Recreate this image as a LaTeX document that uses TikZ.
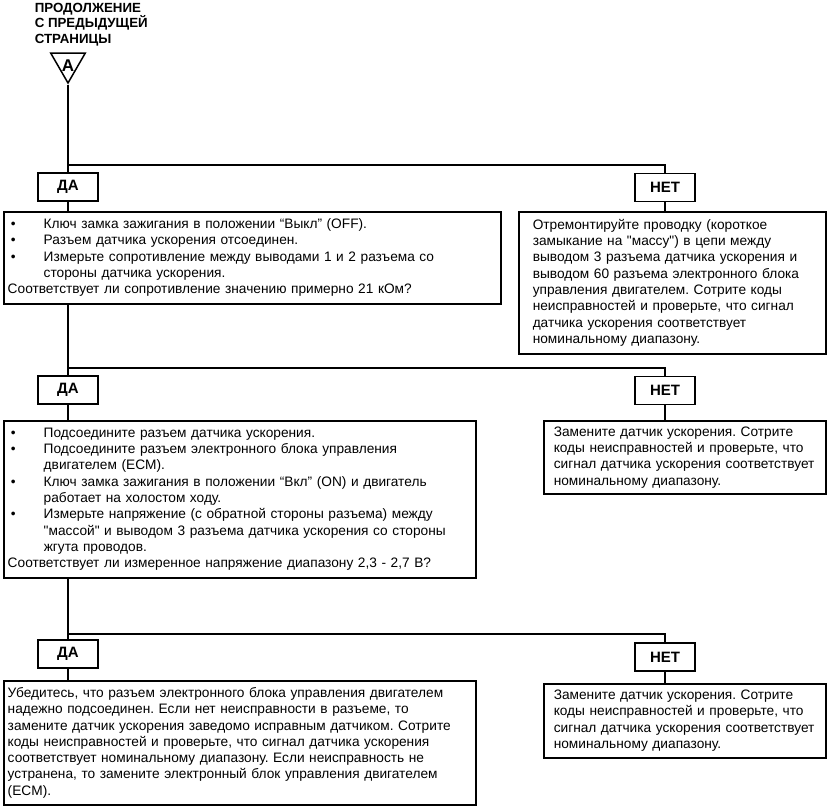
\documentclass[tikz,border=0pt]{standalone}
\usepackage{fontspec}
\setmainfont{Liberation Sans}[Ligatures=TeXOff]
\usetikzlibrary{shapes.geometric}
\frenchspacing
\newcommand{\blt}{\makebox[36pt][l]{\hspace{3pt}\textbullet}}
\newcommand{\bind}{\hspace*{36pt}}
\tikzset{
 qbox/.style={draw,rectangle,anchor=north west,align=left,inner xsep=4pt,inner ysep=0pt,
  font=\fontsize{13.7}{16.3}\selectfont},
 rbox/.style={qbox,inner xsep=10pt},
 yesno/.style={draw,rectangle,minimum width=60pt,minimum height=28pt,inner sep=0pt,
  font=\bfseries\fontsize{15}{16}\selectfont}
}
\begin{document}
\begin{tikzpicture}[x=1pt,y=-1pt,line width=1.5pt]
 \useasboundingbox (0,0) rectangle (832,811);
 \node (title) [anchor=north west,align=left,inner sep=0pt,font=\bfseries\fontsize{13.3}{15.5}\selectfont] at (34,2)
  {ПРОДОЛЖЕНИЕ\\С ПРЕДЫДУЩЕЙ\\СТРАНИЦЫ};
 \node (tri) [draw,regular polygon,regular polygon sides=3,shape border rotate=180,minimum size=40pt,inner sep=0pt] at (68,63) {};
 \node (letter) [inner sep=0pt,font=\bfseries\fontsize{17}{17}\selectfont] at (68,65.5) {A};
 \coordinate (j1) at (68,165);
 \coordinate (j2) at (68,368);
 \coordinate (j3) at (68,634);
 \node (yes1) [yesno] at (68,187) {ДА};
 \node (no1) [yesno] at (665,187.5) {НЕТ};
 \node (q1) [qbox,text width=489pt,minimum height=92pt] at (3,211)
  {\blt Ключ замка зажигания в положении “Выкл” (OFF).\\
   \blt Разъем датчика ускорения отсоединен.\\
   \blt Измерьте сопротивление между выводами 1 и 2 разъема со\\
   \bind стороны датчика ускорения.\\
   Соответствует ли сопротивление значению примерно 21 кОм?};
 \node (r1) [rbox,inner xsep=14pt,text width=279pt,minimum height=142pt] at (518,211)
  {Отремонтируйте проводку (короткое\\
   замыкание на "массу") в цепи между\\
   выводом 3 разъема датчика ускорения и\\
   выводом 60 разъема электронного блока\\
   управления двигателем. Сотрите коды\\
   неисправностей и проверьте, что сигнал\\
   датчика ускорения соответствует\\
   номинальному диапазону.};
 \node (yes2) [yesno] at (68,390) {ДА};
 \node (no2) [yesno] at (665,390.5) {НЕТ};
 \node (q2) [qbox,text width=464pt,minimum height=157pt] at (3,420)
  {\blt Подсоедините разъем датчика ускорения.\\
   \blt Подсоедините разъем электронного блока управления\\
   \bind двигателем (ECM).\\
   \blt Ключ замка зажигания в положении “Вкл” (ON) и двигатель\\
   \bind работает на холостом ходу.\\
   \blt Измерьте напряжение (с обратной стороны разъема) между\\
   \bind "массой" и выводом 3 разъема датчика ускорения со стороны\\
   \bind жгута проводов.\\
   Соответствует ли измеренное напряжение диапазону 2,3 - 2,7 В?};
 \node (r2) [rbox,text width=262pt,minimum height=73pt] at (543,420)
  {Замените датчик ускорения. Сотрите\\
   коды неисправностей и проверьте, что\\
   сигнал датчика ускорения соответствует\\
   номинальному диапазону.};
 \node (yes3) [yesno] at (68,654) {ДА};
 \node (no3) [yesno] at (665,657) {НЕТ};
 \node (q3) [qbox,text width=464pt,minimum height=124pt] at (3,680)
  {Убедитесь, что разъем электронного блока управления двигателем\\
   надежно подсоединен. Если нет неисправности в разъеме, то\\
   замените датчик ускорения заведомо исправным датчиком. Сотрите\\
   коды неисправностей и проверьте, что сигнал датчика ускорения\\
   соответствует номинальному диапазону. Если неисправность не\\
   устранена, то замените электронный блок управления двигателем\\
   (ECM).};
 \node (r3) [rbox,text width=262pt,minimum height=74pt] at (543,683)
  {Замените датчик ускорения. Сотрите\\
   коды неисправностей и проверьте, что\\
   сигнал датчика ускорения соответствует\\
   номинальному диапазону.};
 \draw (tri.corner 1) -- (yes1);
 \draw (j1) -| (no1);
 \draw (yes1) -- (yes1 |- q1.north);
 \draw (no1) -- (no1 |- r1.north);
 \draw (yes1 |- q1.south) -- (yes2);
 \draw (j2) -| (no2);
 \draw (yes2) -- (yes2 |- q2.north);
 \draw (no2) -- (no2 |- r2.north);
 \draw (yes2 |- q2.south) -- (yes3);
 \draw (j3) -| (no3);
 \draw (yes3) -- (yes3 |- q3.north);
 \draw (no3) -- (no3 |- r3.north);
\end{tikzpicture}
\end{document}
